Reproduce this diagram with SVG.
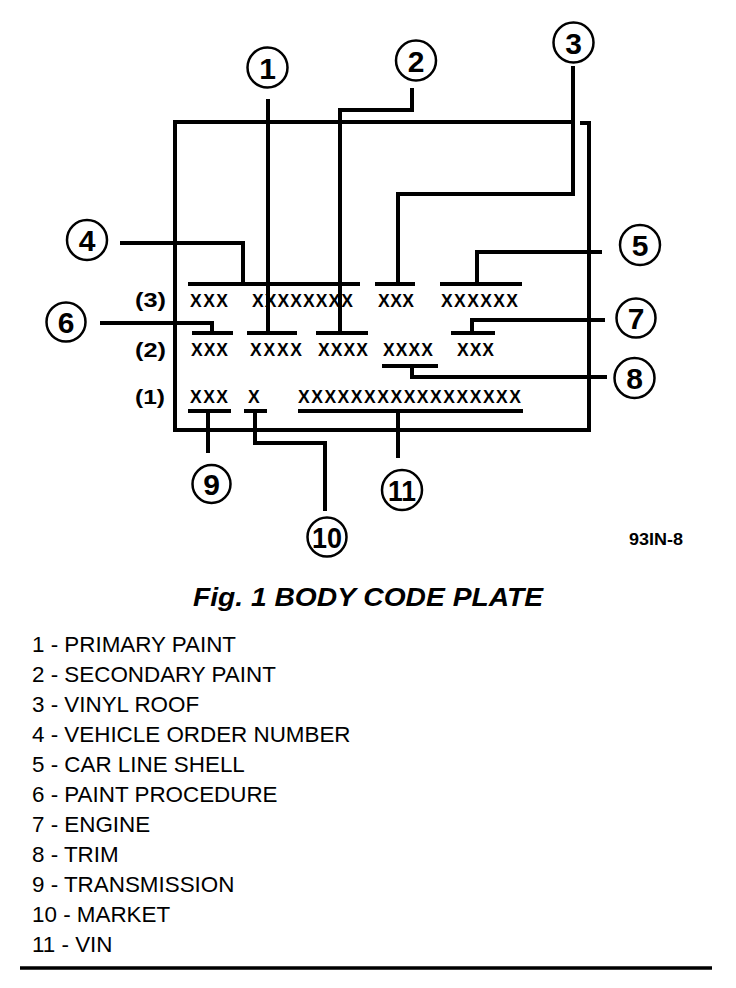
<svg xmlns="http://www.w3.org/2000/svg" width="736" height="988" viewBox="0 0 736 988">
<style>
.ln{fill:none;stroke:#000;stroke-width:4;stroke-linecap:butt;stroke-linejoin:miter}
.cir{fill:#fff;stroke:#000;stroke-width:2.5}
.num{font-family:"Liberation Sans",Arial,sans-serif;font-weight:bold;font-size:30px;text-anchor:middle;fill:#000}
.x{font-family:"Liberation Sans",Arial,sans-serif;font-weight:bold;font-size:17.5px;fill:#000}
.rl{font-family:"Liberation Sans",Arial,sans-serif;font-weight:bold;font-size:20.5px;fill:#000}
.lst{font-family:"Liberation Sans",Arial,sans-serif;font-size:22.4px;fill:#000}
</style>
<rect width="736" height="988" fill="#fff"/>

<g id="plate">
<path class="ln" d="M175 122 L573 122 M175 120 L175 430 L591 430 M580 123 L589 123 L589 430"/>
<text class="rl" x="135" y="307" textLength="31" lengthAdjust="spacingAndGlyphs">(3)</text>
<text class="rl" x="135" y="357" textLength="31" lengthAdjust="spacingAndGlyphs">(2)</text>
<text class="rl" x="135" y="404" textLength="30" lengthAdjust="spacingAndGlyphs">(1)</text>
<text class="x" x="190" y="307" textLength="38" lengthAdjust="spacing">XXX</text>
<text class="x" x="252" y="307" textLength="101" lengthAdjust="spacing">XXXXXXXX</text>
<text class="x" x="378" y="307" textLength="36" lengthAdjust="spacing">XXX</text>
<text class="x" x="441" y="307" textLength="77" lengthAdjust="spacing">XXXXXX</text>
<text class="x" x="191" y="356" textLength="37" lengthAdjust="spacing">XXX</text>
<text class="x" x="250" y="356" textLength="52" lengthAdjust="spacing">XXXX</text>
<text class="x" x="318" y="356" textLength="50" lengthAdjust="spacing">XXXX</text>
<text class="x" x="383" y="356" textLength="50" lengthAdjust="spacing">XXXX</text>
<text class="x" x="457" y="356" textLength="37" lengthAdjust="spacing">XXX</text>
<text class="x" x="190" y="403" textLength="38" lengthAdjust="spacing">XXX</text>
<text class="x" x="248" y="403">X</text>
<text class="x" x="298" y="403" textLength="223" lengthAdjust="spacing">XXXXXXXXXXXXXXXXX</text>
<path class="ln" d="M188 284 L360 284 M375 284 L415 284 M440 284 L522 284 M192 333 L233 333 M247 333 L297 333 M316 333 L368 333 M451 333 L495 333 M382 366 L438 366 M188 411 L231 411 M244 411 L267 411 M298 411 L523 411"/>
</g>

<g id="connectors">
<path class="ln" d="M268 99 L268 333"/>
<path class="ln" d="M412 88 L412 110 L340 110 L340 333"/>
<path class="ln" d="M573 66 L573 194 L398 194 L398 284"/>
<path class="ln" d="M120 243 L243 243 L243 284"/>
<path class="ln" d="M602 252 L477 252 L477 284"/>
<path class="ln" d="M100 323 L212 323 L212 333"/>
<path class="ln" d="M605 320 L472 320 L472 333"/>
<path class="ln" d="M607 377 L412 377 L412 366"/>
<path class="ln" d="M208 411 L208 453"/>
<path class="ln" d="M255 411 L255 443 L325 443 L325 511"/>
<path class="ln" d="M398 411 L398 458"/>
</g>

<g id="c1"><circle class="cir" cx="267.5" cy="67.5" r="20"/><text class="num" x="267.5" y="78.5">1</text></g>
<g id="c2"><circle class="cir" cx="416" cy="60.5" r="20"/><text class="num" x="416" y="71.5">2</text></g>
<g id="c3"><circle class="cir" cx="573.5" cy="42.5" r="20"/><text class="num" x="573.5" y="53.5">3</text></g>
<g id="c4"><circle class="cir" cx="87" cy="240" r="20"/><text class="num" x="87" y="251">4</text></g>
<g id="c5"><circle class="cir" cx="640" cy="245" r="20"/><text class="num" x="640" y="256">5</text></g>
<g id="c6"><circle class="cir" cx="66" cy="322" r="19.5"/><text class="num" x="66" y="333">6</text></g>
<g id="c7"><circle class="cir" cx="636" cy="318" r="19.5"/><text class="num" x="636" y="329">7</text></g>
<g id="c8"><circle class="cir" cx="634.5" cy="378" r="20"/><text class="num" x="634.5" y="389">8</text></g>
<g id="c9"><circle class="cir" cx="211.5" cy="484" r="19"/><text class="num" x="211.5" y="495">9</text></g>
<g id="c10"><circle class="cir" cx="327" cy="537" r="19.5"/><text class="num" x="327" y="547.5" font-size="27" textLength="30" lengthAdjust="spacingAndGlyphs">10</text></g>
<g id="c11"><circle class="cir" cx="402" cy="490" r="20"/><text class="num" x="402" y="500.5" font-size="27" textLength="28" lengthAdjust="spacingAndGlyphs">11</text></g>

<text x="629" y="545" font-family="Liberation Sans,Arial,sans-serif" font-weight="bold" font-size="16.5" textLength="54" lengthAdjust="spacingAndGlyphs">93IN-8</text>

<text x="193" y="606" font-family="Liberation Sans,Arial,sans-serif" font-weight="bold" font-style="italic" font-size="26.5" textLength="350" lengthAdjust="spacingAndGlyphs">Fig. 1 BODY CODE PLATE</text>

<g id="legend">
<text class="lst" x="32" y="652">1 - PRIMARY PAINT</text>
<text class="lst" x="32" y="682">2 - SECONDARY PAINT</text>
<text class="lst" x="32" y="712">3 - VINYL ROOF</text>
<text class="lst" x="32" y="742">4 - VEHICLE ORDER NUMBER</text>
<text class="lst" x="32" y="772">5 - CAR LINE SHELL</text>
<text class="lst" x="32" y="802">6 - PAINT PROCEDURE</text>
<text class="lst" x="32" y="832">7 - ENGINE</text>
<text class="lst" x="32" y="862">8 - TRIM</text>
<text class="lst" x="32" y="892">9 - TRANSMISSION</text>
<text class="lst" x="32" y="922">10 - MARKET</text>
<text class="lst" x="32" y="952">11 - VIN</text>
</g>
<line x1="20" y1="968" x2="712" y2="968" stroke="#000" stroke-width="3.5"/>
</svg>
